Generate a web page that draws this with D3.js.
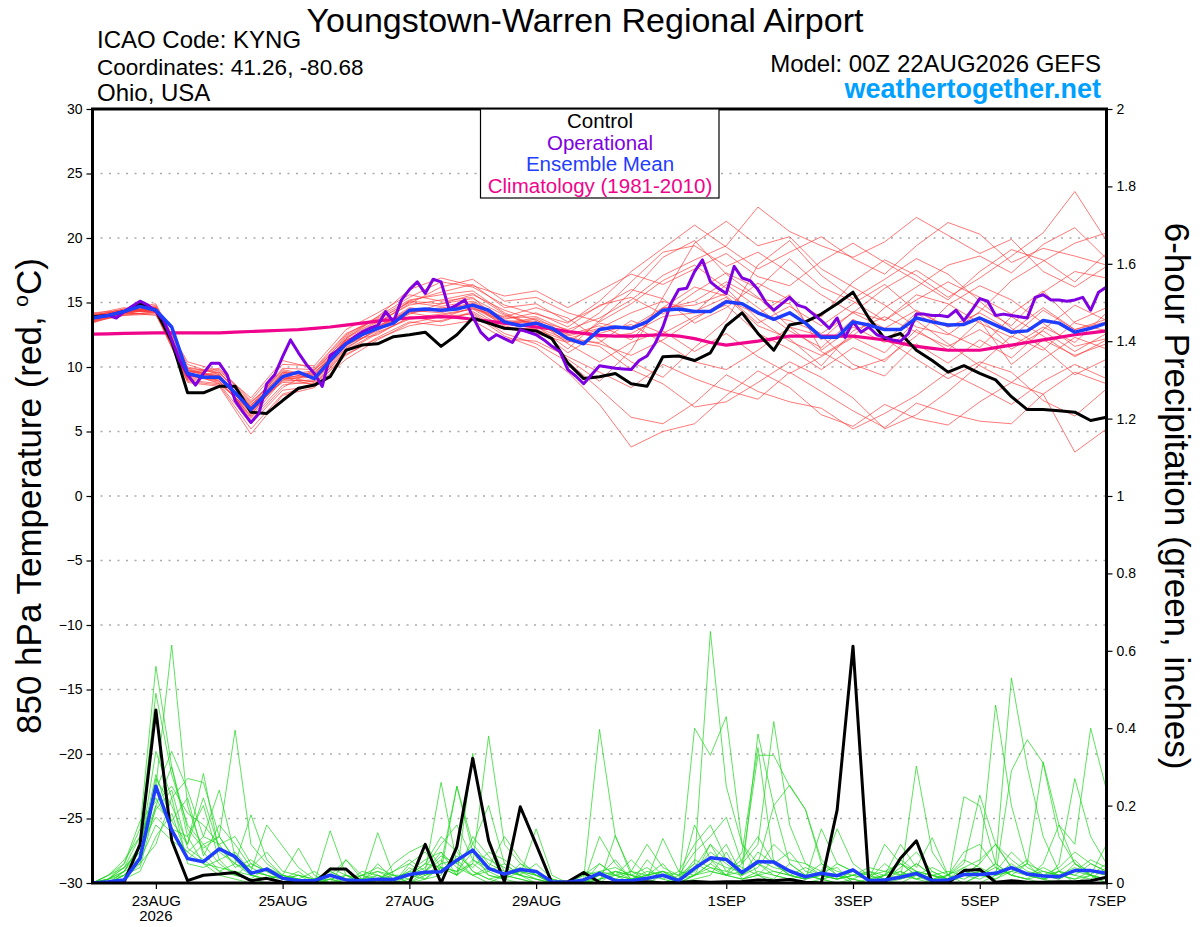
<!DOCTYPE html>
<html><head><meta charset="utf-8">
<script src="https://cdn.jsdelivr.net/npm/d3@7/dist/d3.min.js"></script>
<style>
body{margin:0;background:#fff}
svg{display:block}
text{font-family:"Liberation Sans",Arial,Helvetica,sans-serif}
</style>
</head><body>
<svg id="chart" width="1200" height="927"></svg>
<script>
// ---------------- DATA ----------------
const runStart = Date.UTC(2026, 7, 22, 0);   // 00Z 22AUG2026
const runEnd = Date.UTC(2026, 8, 7, 0);      // 00Z 07SEP2026
const stepMain = 6;     // hours (control, mean, climatology, precip)
const stepOper = 3;     // hours (operational)
const stepMember = 12;  // hours (temperature members)

const tempTicks = [30, 25, 20, 15, 10, 5, 0, -5, -10, -15, -20, -25, -30];
const precipTicks = [0, 0.2, 0.4, 0.6, 0.8, 1, 1.2, 1.4, 1.6, 1.8, 2];
const dateTickDays = ["2026-08-23", "2026-08-25", "2026-08-27", "2026-08-29", "2026-09-01", "2026-09-03", "2026-09-05", "2026-09-07"];
const dateTickLabels = ["23AUG", "25AUG", "27AUG", "29AUG", "1SEP", "3SEP", "5SEP", "7SEP"];
const yearLabel = "2026";

const legendItems = ["Control", "Operational", "Ensemble Mean", "Climatology (1981-2010)"];

const controlTemp = [13.9,14.0,14.3,14.9,14.4,12.0,8.0,8.0,8.5,8.5,6.5,6.4,7.4,8.35,8.6,9.25,11.3,11.7,11.8,12.35,12.5,12.7,11.6,12.5,13.8,13.4,13.0,12.9,12.8,12.2,10.3,9.1,9.25,9.5,8.7,8.5,10.8,10.85,10.5,11.1,13.2,14.2,12.6,11.3,13.25,13.5,14.1,14.9,15.8,13.8,12.2,12.6,11.3,10.5,9.6,10.1,9.5,9.0,7.7,6.7,6.7,6.6,6.5,5.85,6.1];

const meanTemp = [13.8,14.0,14.3,14.7,14.4,13.1,9.5,9.2,9.2,8.0,6.7,8.0,9.25,9.6,9.1,10.5,11.8,12.5,13.0,13.4,14.4,14.5,14.4,14.5,14.8,14.4,13.5,13.2,13.4,13.0,12.2,11.8,12.9,13.1,13.0,13.5,14.4,14.5,14.3,14.3,15.05,14.9,14.2,13.7,14.2,13.4,12.3,12.3,13.5,13.25,12.9,12.9,13.8,13.5,13.25,13.3,13.8,13.25,12.7,12.8,13.6,13.4,12.7,13.0,13.4];

const climTemp = [12.55,12.57,12.6,12.62,12.65,12.65,12.65,12.65,12.65,12.7,12.75,12.8,12.85,12.9,13.0,13.1,13.25,13.4,13.55,13.7,13.8,13.85,13.9,13.85,13.7,13.55,13.4,13.25,13.1,12.95,12.75,12.6,12.45,12.4,12.4,12.45,12.5,12.4,12.2,11.9,11.7,11.85,12.0,12.2,12.4,12.4,12.4,12.4,12.4,12.25,12.1,11.85,11.6,11.45,11.3,11.3,11.3,11.5,11.7,11.9,12.1,12.3,12.5,12.65,12.8];

const operTemp = [13.8,13.9,14.0,13.8,14.3,14.7,15.1,14.8,14.3,13.6,12.1,10.5,9.4,8.6,9.5,10.3,10.3,9.4,7.4,6.5,5.7,6.4,8.7,9.4,10.8,12.1,11.1,10.2,9.5,8.5,10.9,11.3,11.8,12.3,12.7,13.0,13.2,14.3,13.5,15.2,16.0,16.6,15.7,16.8,16.6,
14.5,14.8,15.2,13.9,12.7,12.1,12.5,12.2,11.9,12.9,12.7,12.5,12.1,11.6,11.2,9.8,9.3,8.7,9.4,10.1,10.0,9.9,9.85,9.8,10.5,10.85,11.8,13.1,14.9,16.0,16.1,17.4,18.3,16.6,16.1,15.7,17.8,16.9,16.7,16.0,15.0,14.4,
14.9,15.4,14.8,14.6,14.1,13.6,13.0,13.8,12.3,13.5,12.7,13.1,12.5,12.3,12.1,12.0,12.6,14.1,14.1,14.0,14.0,13.9,14.4,13.6,14.4,15.3,15.1,14.0,14.1,14.0,13.9,13.8,15.4,15.6,15.2,15.2,15.1,15.2,15.4,14.4,15.8,16.2];

const memberTemp = [
[13.6,14.1,14.6,9.8,8.9,6.2,9.6,9.5,12.4,13.8,15.2,15.6,15.9,14.2,13.2,11.4,13.6,15.8,18.5,19.8,17.2,15.4,13.1,11.2,9.8,10.6,12.4,14.8,16.3,15.2,13.4,11.6,12.2],
[14.0,14.5,14.2,9.2,9.6,7.1,8.8,8.7,11.2,12.6,13.8,14.1,14.5,13.9,14.6,13.8,12.1,10.4,9.2,11.5,13.6,17.9,19.8,17.1,15.3,16.8,18.4,17.2,15.1,13.0,11.5,9.4,10.6],
[13.9,14.2,14.8,10.2,9.4,5.8,8.4,9.8,12.0,13.4,14.9,16.2,16.8,15.1,15.4,14.2,13.5,14.9,16.7,17.9,16.1,13.7,12.0,10.9,12.4,14.6,16.2,17.9,18.6,17.3,19.5,20.8,18.4],
[13.5,14.0,14.1,8.9,8.6,5.2,7.9,8.6,11.0,12.2,13.2,13.6,14.2,12.6,11.8,10.4,8.3,6.1,5.6,7.2,9.4,8.1,7.3,6.8,5.2,6.4,7.8,9.6,8.4,7.1,8.9,10.2,9.1],
[13.8,14.4,14.6,9.6,9.9,7.4,10.2,10.1,12.9,14.2,15.6,15.1,15.4,13.2,12.5,10.6,8.9,11.3,15.4,19.6,21.3,19.4,20.1,17.6,16.2,14.8,13.1,12.5,14.3,16.7,18.2,19.6,20.4],
[14.1,14.6,14.3,9.4,8.8,6.5,9.0,8.9,11.5,12.9,14.1,14.9,15.6,14.4,13.6,12.9,13.8,15.2,17.1,18.3,19.4,22.4,20.5,19.4,18.5,19.7,21.6,20.2,18.8,19.9,17.4,16.2,17.8],
[13.7,14.3,14.5,9.1,9.3,6.9,9.5,9.4,12.1,13.1,14.6,14.3,14.9,13.1,12.9,12.0,11.6,9.8,8.7,6.9,7.3,8.8,10.4,9.2,7.6,5.2,6.3,8.1,10.2,12.4,11.3,13.5,14.6],
[13.4,14.2,14.0,9.9,9.1,6.0,8.6,8.9,11.9,13.3,15.1,15.8,16.4,14.6,14.9,13.5,14.7,16.0,15.3,13.4,14.6,16.5,15.2,13.9,16.6,18.3,17.1,15.4,16.9,18.6,20.4,23.6,19.8],
[14.2,14.4,14.7,10.4,9.7,7.6,10.5,9.9,12.6,13.7,15.0,14.7,15.1,13.8,13.9,12.8,12.3,12.6,13.9,14.2,16.4,14.6,12.8,11.5,13.7,12.2,10.6,9.1,10.4,9.6,7.4,6.2,8.3],
[13.6,14.0,14.3,8.8,8.5,4.8,7.8,8.4,10.6,12.1,13.4,13.9,14.1,12.4,11.5,9.6,7.1,3.8,5.0,5.6,7.8,9.7,8.4,6.3,5.4,7.1,6.0,5.5,7.3,8.8,7.9,3.4,5.2],
[13.9,14.5,14.9,10.0,9.5,7.2,9.7,9.2,12.2,13.5,14.8,15.2,15.7,14.1,13.1,12.6,14.2,16.6,18.9,19.4,17.8,18.9,17.3,15.6,14.2,16.1,17.5,15.9,14.6,13.2,15.8,17.4,16.9],
[13.8,14.1,14.2,9.3,9.0,6.8,9.1,9.6,11.7,12.8,14.2,13.8,14.6,13.3,13.7,11.8,10.4,11.9,12.8,11.2,12.6,10.8,9.5,10.8,12.3,11.1,13.6,11.8,10.1,8.8,10.6,12.3,11.4],
[14.0,14.3,14.4,9.7,9.3,6.4,9.3,8.8,11.4,13.0,14.5,14.4,15.0,13.7,14.2,13.1,14.8,15.4,14.1,15.8,17.3,16.1,18.4,16.2,15.1,13.6,15.2,16.6,15.4,14.1,15.9,13.4,12.8],
[13.7,14.2,14.5,9.0,9.2,7.0,9.8,9.3,12.0,12.5,13.9,13.5,14.3,12.9,13.0,11.1,12.6,13.3,11.9,10.4,9.8,11.3,13.1,12.4,10.2,9.3,11.8,10.3,12.1,10.7,12.9,14.8,13.6],
[13.5,14.4,14.3,9.6,8.7,6.6,8.9,9.0,11.6,13.2,14.3,14.6,14.7,13.4,13.8,12.5,13.2,12.1,14.6,16.2,15.5,13.4,14.7,13.2,14.9,16.4,14.3,13.1,13.8,11.6,13.1,11.9,14.2],
[14.1,14.3,14.6,9.5,9.8,7.3,9.4,9.7,12.3,13.6,15.1,14.9,15.3,14.0,13.3,12.3,11.8,10.9,12.1,13.7,15.2,14.1,15.6,11.3,13.1,11.9,14.2,12.6,11.5,13.9,12.4,10.8,12.1],
[13.8,14.2,14.4,9.4,8.9,6.3,9.2,8.6,11.3,12.7,13.7,14.0,14.5,13.0,12.6,11.9,13.4,12.9,14.5,15.1,16.6,15.3,14.9,12.1,14.3,13.6,15.6,14.9,13.4,12.3,14.4,12.9,13.5],
[13.6,14.4,14.5,9.7,9.2,6.9,9.6,9.1,12.1,13.1,14.4,14.2,14.9,13.6,13.5,12.4,13.0,14.2,15.1,14.3,15.4,13.2,12.2,10.1,12.8,13.9,12.7,11.6,12.9,11.4,12.8,11.2,12.6],
[13.9,14.3,14.3,9.2,9.4,6.7,9.3,9.2,11.8,13.0,14.2,14.5,14.6,13.5,13.1,12.1,11.9,13.6,12.6,13.9,14.8,12.6,11.4,9.8,11.5,10.4,12.9,11.3,13.6,10.2,12.1,10.9,11.8],
[13.7,14.2,14.4,9.5,9.1,6.6,9.1,9.2,11.9,13.0,14.3,14.4,14.8,13.5,13.4,12.2,12.9,13.1,14.6,14.8,15.7,14.1,13.6,12.6,14.2,13.0,14.4,13.1,14.2,12.8,14.6,12.9,13.7],
[13.8,14.3,14.6,9.9,9.6,7.0,9.9,9.8,12.5,13.9,15.4,16.6,16.2,14.8,14.1,13.4,15.1,17.4,19.2,21.0,19.3,17.6,18.9,20.1,18.4,17.2,19.4,21.2,20.3,18.1,19.2,18.6,17.9],
[13.5,14.1,14.2,9.0,8.7,5.6,8.2,8.5,10.9,12.3,13.5,13.2,13.6,12.2,12.0,10.8,9.6,8.4,10.2,9.1,8.2,7.5,9.6,8.1,6.6,5.3,7.2,6.4,5.8,5.6,7.9,9.6,8.7],
[14.0,14.4,14.5,9.8,9.3,6.1,9.0,9.4,12.2,13.9,16.0,16.9,16.3,15.5,15.9,14.6,15.9,17.2,16.4,17.6,18.8,17.0,16.3,18.2,19.6,18.1,16.7,15.2,17.4,19.1,18.3,16.6,18.8]
];

const controlPrecip = [0,0,0.003,0.10,0.447,0.11,0.006,0.02,0.023,0.027,0.006,0.012,0.002,0,0,0.036,0.036,0,0,0,0,0.10,0,0.094,0.322,0.11,0.003,0.197,0.10,0,0.003,0.027,0.002,0,0.002,0.003,0,0.002,0.004,0.002,0.003,0.004,0.008,0.006,0.009,0.002,0,0.189,0.612,0.003,0,0.064,0.109,0.003,0,0.032,0.035,0.002,0.006,0.002,0.002,0.003,0.003,0.006,0.015];

const meanPrecip = [0,0.003,0.008,0.064,0.25,0.137,0.063,0.055,0.088,0.068,0.025,0.036,0.012,0.006,0.006,0.02,0.008,0.006,0.01,0.009,0.022,0.028,0.029,0.059,0.085,0.038,0.023,0.035,0.03,0.003,0.002,0.008,0.025,0.006,0.006,0.012,0.02,0.006,0.038,0.065,0.061,0.027,0.055,0.054,0.031,0.016,0.025,0.019,0.034,0.006,0.008,0.015,0.025,0.006,0.008,0.022,0.022,0.025,0.04,0.023,0.018,0.016,0.032,0.032,0.025];

const memberPrecip = [
[0,0.01,0.05,0.14,0.56,0.30,0.12,0.05,0.02,0.01,0,0,0, 0,0,0.01,0,0,0,0,0.02,0.05,0.12,0.08,0.03,0.01, 0,0,0,0,0,0,0.02,0.01,0,0,0,0.01,0.05, 0.65,0.25,0.10,0.02,0,0,0,0.01,0,0,0,0,0, 0,0,0,0.02,0.05,0.46,0.20,0.05,0.01,0,0,0.02,0.01],
[0,0,0.03,0.10,0.25,0.615,0.20,0.08,0.03,0.02,0.01,0,0, 0,0.01,0.03,0.01,0,0,0,0,0.03,0.26,0.05,0.02,0, 0.02,0.01,0,0,0,0,0,0.03,0.02,0.01,0.03,0,0.40, 0.33,0.43,0.10,0.05,0.02,0.01,0,0,0,0,0,0.02,0.05, 0.02,0,0,0,0.02,0.05,0.53,0.30,0.12,0.03,0,0,0],
[0,0.02,0.06,0.12,0.49,0.28,0.15,0.10,0.12,0.395,0.10,0.05,0.02, 0.01,0,0,0,0.01,0.02,0,0.05,0.08,0.03,0.25,0.08,0.02, 0.01,0,0,0,0,0,0.12,0.05,0.01,0,0,0,0.02, 0.05,0.10,0.02,0.385,0.20,0.05,0.02,0.01,0,0.01,0,0,0, 0.02,0.01,0,0,0,0.02,0.29,0.37,0.31,0.12,0.05,0.02,0],
[0,0.01,0.04,0.08,0.34,0.22,0.27,0.26,0.12,0.06,0.02,0.01,0, 0,0,0.135,0.02,0,0,0,0.01,0.03,0.06,0.02,0.335,0.10, 0.03,0.02,0,0,0,0.01,0.397,0.12,0.03,0.01,0,0.02,0.08, 0.12,0.17,0.05,0.10,0.417,0.15,0.05,0.03,0.14,0.05,0.02,0,0.01, 0.302,0.08,0.02,0,0.02,0.05,0.02,0.01,0,0.05,0.27,0.12,0.05],
[0,0,0.02,0.06,0.27,0.20,0.10,0.283,0.08,0.05,0.176,0.06,0.02, 0.09,0.02,0,0,0,0.13,0.02,0,0.01,0.05,0.25,0.10,0.20, 0.05,0.02,0.14,0.02,0,0,0,0.123,0.02,0,0.02,0,0.15, 0.06,0.02,0.05,0.33,0.33,0.25,0.19,0.05,0.02,0,0,0.02,0.10, 0.04,0.117,0.02,0.05,0.227,0.10,0.04,0.02,0.01,0.03,0.06,0.02,0.10],
[0,0.01,0.03,0.05,0.24,0.34,0.24,0.12,0.24,0.07,0.03,0.15,0.095, 0.04,0.01,0,0.06,0.02,0,0.05,0.08,0.10,0.04,0.02,0.05,0.38, 0.10,0.05,0.02,0,0,0,0.05,0.02,0,0.06,0.02,0,0.02, 0.05,0.02,0.08,0.35,0.05,0.02,0.01,0.14,0.05,0.03,0.01,0,0.02, 0.05,0.02,0,0.223,0.20,0.05,0.02,0.01,0.05,0.15,0.10,0.40,0.24],
[0,0.02,0.05,0.16,0.21,0.25,0.18,0.15,0.10,0.12,0.05,0.03,0.01, 0,0,0.02,0.06,0.01,0,0.01,0.02,0.04,0.10,0.15,0.06,0.04, 0.12,0.06,0.02,0.01,0,0.03,0.02,0.01,0,0.01,0.115,0.03,0.02, 0.10,0.06,0.02,0.05,0.20,0.253,0.19,0.06,0.02,0.01,0,0.01,0.03, 0.01,0,0.02,0.08,0.10,0.04,0.02,0.05,0.313,0.15,0.05,0.02,0],
[0,0,0.02,0.04,0.20,0.30,0.14,0.09,0.12,0.06,0.04,0.08,0.03, 0.02,0,0.04,0.02,0,0.05,0.01,0.03,0.06,0.08,0.04,0.02,0.03, 0.05,0.02,0.01,0,0,0,0.03,0.02,0.06,0.02,0.03,0.01,0.06, 0.04,0.03,0.06,0.12,0.05,0.08,0.03,0.02,0.05,0.03,0.01,0.10,0.05, 0.03,0.02,0.01,0.02,0.05,0.10,0.06,0.03,0.02,0.04,0.08,0.05,0.03],
[0,0.01,0.03,0.10,0.17,0.13,0.08,0.05,0.04,0.03,0.02,0.01,0.02, 0.01,0,0,0.02,0.01,0.03,0.02,0,0.02,0.04,0.03,0.05,0.02, 0.01,0.03,0.02,0,0,0.02,0.05,0.02,0.03,0.10,0.04,0.02,0.04, 0.06,0.04,0.03,0.05,0.03,0.02,0.04,0.02,0.01,0.03,0.02,0.03,0.05, 0.02,0.04,0.02,0.06,0.04,0.02,0.03,0.06,0.02,0.01,0.05,0.03,0.02],
[0,0,0.01,0.03,0.12,0.18,0.06,0.10,0.05,0.02,0.05,0.03,0.01, 0.03,0,0.01,0,0.03,0.02,0,0.04,0.01,0.02,0.09,0.03,0.01, 0.02,0.04,0.02,0,0,0.01,0.02,0.06,0.01,0.02,0.05,0,0.01, 0.02,0.08,0.01,0.02,0.06,0.02,0.01,0.03,0.04,0,0.01,0.05,0.02, 0.01,0.03,0.01,0.02,0.03,0.01,0.04,0.02,0.01,0.03,0.02,0.01,0.04],
[0,0.01,0.04,0.09,0.28,0.16,0.22,0.07,0.15,0.10,0.04,0.02,0, 0.01,0.03,0,0,0.02,0.01,0.03,0.06,0.03,0.08,0.02,0.06,0.03, 0.01,0.05,0.03,0,0,0,0.01,0.03,0.02,0.04,0.01,0.03,0.10, 0.15,0.06,0.04,0.02,0.01,0.05,0.02,0.01,0.02,0.03,0.02,0.01,0.04, 0.08,0.03,0.01,0.04,0.06,0.10,0.04,0.02,0.03,0.02,0.04,0.02,0.01],
[0,0,0.02,0.07,0.19,0.24,0.09,0.06,0.03,0.05,0.02,0.01,0.02, 0.01,0,0,0.01,0,0.02,0.01,0.03,0.02,0.05,0.06,0.02,0.04, 0.02,0.01,0,0,0,0,0.01,0.02,0.01,0.02,0.03,0.01,0.02, 0.03,0.02,0.01,0.03,0.02,0.01,0.02,0.01,0.02,0.01,0.03,0.02,0.01, 0.02,0.01,0.02,0.01,0.03,0.02,0.05,0.02,0.01,0.02,0.01,0.03,0.02],
[0,0.02,0.04,0.12,0.22,0.14,0.12,0.20,0.06,0.08,0.03,0.02,0.01, 0.02,0.01,0.03,0.01,0.02,0.04,0.02,0.01,0.03,0.07,0.05,0.10,0.05, 0.03,0.02,0.05,0.01,0,0.02,0.03,0.04,0.02,0.01,0.02,0.01,0.03, 0.08,0.05,0.02,0.04,0.10,0.06,0.05,0.02,0.01,0.02,0.04,0.03,0.02, 0.05,0.02,0.03,0.02,0.01,0.03,0.08,0.04,0.02,0.03,0.02,0.05,0.03],
[0,0,0.01,0.05,0.10,0.22,0.05,0.04,0.06,0.02,0.01,0.04,0.02, 0,0,0.02,0.01,0,0.01,0.02,0.02,0.01,0.04,0.03,0.08,0.06, 0.04,0.02,0.01,0,0,0,0.02,0.01,0.03,0.02,0.01,0,0.02, 0.04,0.02,0.01,0.02,0.03,0.02,0.01,0.02,0.01,0.02,0.01,0.02,0.03, 0.01,0.02,0.01,0.03,0.02,0.04,0.02,0.01,0.02,0.01,0.03,0.02,0.01],
[0,0.01,0.02,0.06,0.15,0.11,0.08,0.12,0.10,0.04,0.06,0.03,0.01, 0.02,0.01,0.01,0.02,0.01,0.01,0.03,0.05,0.02,0.03,0.07,0.04,0.08, 0.06,0.03,0.02,0.01,0,0.01,0.02,0.03,0.01,0.02,0.03,0.02,0.05, 0.03,0.02,0.03,0.06,0.04,0.03,0.02,0.05,0.03,0.02,0.01,0.02,0.06, 0.03,0.02,0.01,0.02,0.03,0.02,0.03,0.05,0.03,0.02,0.03,0.06,0.04],
[0,0,0.03,0.08,0.20,0.16,0.10,0.22,0.09,0.05,0.03,0.02,0.01, 0,0.01,0,0,0.02,0.03,0.01,0.02,0.05,0.04,0.02,0.12,0.07, 0.02,0.03,0.01,0,0,0,0.01,0.02,0.01,0.03,0.02,0.01,0.04, 0.10,0.03,0.02,0.08,0.05,0.02,0.01,0.02,0.01,0.02,0.03,0.01,0.02, 0.03,0.01,0.02,0.04,0.02,0.01,0.03,0.02,0.04,0.02,0.01,0.02,0.05]
];

// ---------------- STYLE ----------------
const W = 1200, H = 927;
const plot = {left: 92.5, right: 1106.5, top: 109, bottom: 883};
const colors = {
  member: "#ff3838", precipMember: "#1fd61f", control: "#000000",
  oper: "#7f00e0", mean: "#1f3dff", clim: "#f0048c", site: "#00a0ff", grid: "#aaaaaa"
};

const svg = d3.select("#chart");
svg.append("rect").attr("width", W).attr("height", H).attr("fill", "#fff");

const x = d3.scaleUtc().domain([runStart, runEnd]).range([plot.left, plot.right]);
const yT = d3.scaleLinear().domain([-30, 30]).range([plot.bottom, plot.top]);
const yP = d3.scaleLinear().domain([0, 2]).range([plot.bottom, plot.top]);
const hour = 3600 * 1000;

// grid
svg.append("g").selectAll("line").data(tempTicks.filter(t => t > -30 && t < 30)).join("line")
  .attr("x1", plot.left + 8).attr("x2", plot.right)
  .attr("y1", d => yT(d)).attr("y2", d => yT(d))
  .attr("stroke", colors.grid).attr("stroke-width", 1.3).attr("stroke-dasharray", "2,6.5");

svg.append("defs").append("clipPath").attr("id", "clip")
  .append("rect").attr("x", plot.left).attr("y", plot.top)
  .attr("width", plot.right - plot.left).attr("height", plot.bottom - plot.top);

const g = svg.append("g").attr("clip-path", "url(#clip)");

function lineFor(step, yScale) {
  return d3.line().x((d, i) => x(runStart + i * step * hour)).y(d => yScale(d));
}

// temperature members
g.append("g").selectAll("path").data(memberTemp).join("path")
  .attr("d", lineFor(stepMember, yT)).attr("fill", "none")
  .attr("stroke", colors.member).attr("stroke-width", 0.8).attr("stroke-opacity", 0.85);

// precip members
g.append("g").selectAll("path").data(memberPrecip).join("path")
  .attr("d", lineFor(stepMain, yP)).attr("fill", "none")
  .attr("stroke", colors.precipMember).attr("stroke-width", 0.8).attr("stroke-opacity", 0.9);

// climatology
g.append("path").datum(climTemp).attr("d", lineFor(stepMain, yT))
  .attr("fill", "none").attr("stroke", colors.clim).attr("stroke-width", 3.2).attr("stroke-linejoin", "round");

// control temp
g.append("path").datum(controlTemp).attr("d", lineFor(stepMain, yT))
  .attr("fill", "none").attr("stroke", colors.control).attr("stroke-width", 3).attr("stroke-linejoin", "round");

// operational temp
g.append("path").datum(operTemp).attr("d", lineFor(stepOper, yT))
  .attr("fill", "none").attr("stroke", colors.oper).attr("stroke-width", 3).attr("stroke-linejoin", "round");

// mean temp
g.append("path").datum(meanTemp).attr("d", lineFor(stepMain, yT))
  .attr("fill", "none").attr("stroke", colors.mean).attr("stroke-width", 3.5).attr("stroke-linejoin", "round");

// control precip
g.append("path").datum(controlPrecip).attr("d", lineFor(stepMain, yP))
  .attr("fill", "none").attr("stroke", colors.control).attr("stroke-width", 3).attr("stroke-linejoin", "round");

// mean precip
g.append("path").datum(meanPrecip).attr("d", lineFor(stepMain, yP))
  .attr("fill", "none").attr("stroke", colors.mean).attr("stroke-width", 3.5).attr("stroke-linejoin", "round");

// axes
const axL = d3.axisLeft(yT).tickValues(tempTicks).tickSize(6).tickPadding(4).tickFormat(d3.format("d"));
const axR = d3.axisRight(yP).tickValues(precipTicks).tickSize(6).tickPadding(4).tickFormat(d => d === 0 ? "0" : (d === 1 || d === 2 ? String(d) : d3.format(".1f")(d)));
const dateVals = dateTickDays.map(s => Date.parse(s + "T00:00:00Z"));
const axB = d3.axisBottom(x).tickValues(dateVals).tickSize(6).tickPadding(6)
  .tickFormat((d, i) => dateTickLabels[i]);

function styleAxis(sel, fs) {
  sel.select(".domain").remove();
  sel.selectAll(".tick line").attr("stroke", "#000").attr("stroke-width", 1.2);
  sel.selectAll(".tick text").attr("fill", "#000").style("font-size", fs + "px")
    .style("font-family", '"Liberation Sans", Arial, sans-serif');
}
svg.append("g").attr("transform", `translate(${plot.left},0)`).call(axL).call(s => styleAxis(s, 14));
svg.append("g").attr("transform", `translate(${plot.right},0)`).call(axR).call(s => styleAxis(s, 14));
const gb = svg.append("g").attr("transform", `translate(0,${plot.bottom})`).call(axB).call(s => styleAxis(s, 15));
gb.append("text").attr("x", x(dateVals[0])).attr("y", 38).attr("text-anchor", "middle")
  .attr("fill", "#000").style("font-size", "15px").text(yearLabel);

// frame
svg.append("rect").attr("x", plot.left).attr("y", plot.top)
  .attr("width", plot.right - plot.left).attr("height", plot.bottom - plot.top)
  .attr("fill", "none").attr("stroke", "#000").attr("stroke-width", 3);

// legend
const lg = svg.append("g");
lg.append("rect").attr("x", 480.5).attr("y", plot.top).attr("width", 238.5).attr("height", 89)
  .attr("fill", "#fff").attr("stroke", "#000").attr("stroke-width", 1.2);
const legendColors = [colors.control, colors.oper, colors.mean, colors.clim];
lg.selectAll("text").data(legendItems).join("text")
  .attr("x", 600).attr("y", (d, i) => 128 + i * 21.5).attr("text-anchor", "middle")
  .attr("fill", (d, i) => legendColors[i]).style("font-size", "20.5px").text(d => d);

// titles
svg.append("text").attr("x", 585).attr("y", 32).attr("text-anchor", "middle")
  .style("font-size", "34px").attr("fill", "#000").text("Youngstown-Warren Regional Airport");
const info = ["ICAO Code: KYNG", "Coordinates: 41.26, -80.68", "Ohio, USA"];
const infoSizes = [24, 22.5, 24];
svg.append("g").selectAll("text").data(info).join("text")
  .attr("x", 97).attr("y", (d, i) => 48 + i * 26.5)
  .style("font-size", (d, i) => infoSizes[i] + "px").attr("fill", "#000").text(d => d);
svg.append("text").attr("x", 1101).attr("y", 72).attr("text-anchor", "end")
  .style("font-size", "24px").attr("fill", "#000").text("Model: 00Z 22AUG2026 GEFS");
svg.append("text").attr("x", 1101).attr("y", 98).attr("text-anchor", "end")
  .style("font-size", "27px").style("font-weight", "bold").attr("fill", colors.site).text("weathertogether.net");

// axis titles
const lt = svg.append("text").attr("transform", `translate(41,${(plot.top + plot.bottom) / 2}) rotate(-90)`)
  .attr("text-anchor", "middle").style("font-size", "35px").attr("fill", "#000");
lt.append("tspan").text("850 hPa Temperature (red, ");
lt.append("tspan").attr("dy", -13).style("font-size", "21px").text("o");
lt.append("tspan").attr("dy", 13).text("C)");
svg.append("text").attr("transform", `translate(1165,${(plot.top + plot.bottom) / 2}) rotate(90)`)
  .attr("text-anchor", "middle").style("font-size", "35px").attr("fill", "#000")
  .text("6-hour Precipitation (green, inches)");
</script>
</body></html>
